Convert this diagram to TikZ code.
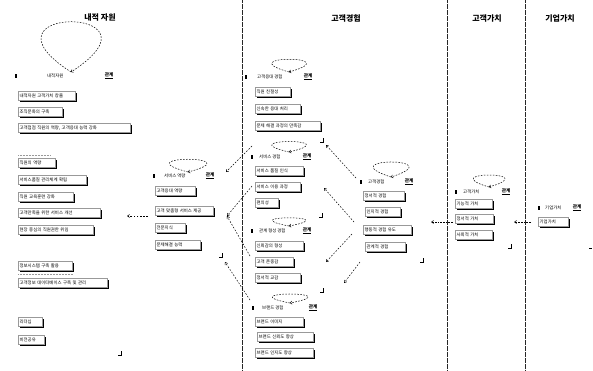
\documentclass[tikz,border=0pt]{standalone}
\usepackage{fontspec}
\setmainfont{Noto Sans CJK KR}
\usetikzlibrary{arrows.meta,shadows}
\begin{document}
\begin{tikzpicture}[x=1pt,y=-1pt,
  bx/.style={draw=black!40, line width=0.3pt, fill=white, anchor=west,
    inner xsep=1.5pt, inner ysep=0pt, minimum height=9pt, text width=#1,
    font=\fontsize{4.4}{5}\selectfont, align=left,
    drop shadow={shadow xshift=1.8pt, shadow yshift=-1.8pt, fill=black, opacity=1}},
  hdname/.style={anchor=west, inner sep=0pt, font=\fontsize{4.4}{5}\selectfont},
  hdrel/.style={anchor=west, inner sep=0.6pt, font=\bfseries\fontsize{4.6}{5}\selectfont},
  hdicon/.style={fill=black, inner sep=0pt, minimum width=2.8pt, minimum height=3.8pt},
  ttl/.style={font=\bfseries\fontsize{8}{9}\selectfont, inner sep=0pt},
  lane/.style={black!85, line width=0.55pt, dash pattern=on 0.6pt off 0.6pt},
  lp/.style={black, line width=0.5pt, dash pattern=on 1.6pt off 1.4pt, -{Straight Barb[length=1.6pt]}},
  arr/.style={black, line width=0.5pt, dash pattern=on 1.6pt off 1.6pt, -{Straight Barb[length=2.2pt,width=3pt]}},
  arrd/.style={black, line width=0.5pt, dash pattern=on 0.7pt off 0.9pt, -{Straight Barb[length=2.2pt,width=3pt]}},
  cmark/.style={black, line width=0.7pt},
  faint/.style={black!40, line width=0.3pt, dash pattern=on 0.6pt off 0.9pt}
]
\useasboundingbox (0,0) rectangle (593,370);

% lanes
\draw[lane] (242,0) -- (242,370);
\draw[lane] (447,0) -- (447,370);
\draw[lane] (525,0) -- (525,370);

% titles
\node[ttl] (t1) at (100,18) {내적 자원};
\node[ttl] (t2) at (346,18) {고객경험};
\node[ttl] (t3) at (487,18) {고객가치};
\node[ttl] (t4) at (560,18) {기업가치};

% ---------------- left lane: internal resources
\node[hdicon] (Li) at (16,76) {};
\node[hdname] (Lh) at (47,76) {내적자원};
\node[hdrel] (Lr) at (104,76) {\underline{관계}};
\coordinate (Lp) at (71,72);
\draw[lp] (Lp) .. controls +(-104,-67) and +(104,-67) .. (Lp);

\node[bx=54pt] (L1) at (18,96) {내적자원 고객가치 창출};
\node[bx=41pt] (L2) at (18,112) {조직문화의 구축};
\node[bx=109pt] (L3) at (18,128) {고객접점 직원의 역량, 고객응대 능력 강화};
\draw[faint] (18,155) -- (50,155);
\node[bx=34pt] (L4) at (18,163) {직원의 역량};
\node[bx=65pt] (L5) at (18,180) {서비스품질 관리체계 확립};
\node[bx=52pt] (L6) at (18,197) {직원 교육훈련 강화};
\node[bx=79pt] (L7) at (18,213) {고객만족을 위한 서비스 개선};
\node[bx=72pt] (L8) at (18,230) {현장 중심의 직원권한 위임};
\node[bx=51pt] (L9) at (18,266) {정보시스템 구축 활용};
\draw[faint] (18,274) -- (73,274);
\node[bx=86pt] (L10) at (18,283) {고객정보 데이터베이스 구축 및 관리};
\node[bx=21pt] (L11) at (18,322) {리더십};
\node[bx=23pt] (L12) at (18,340) {비전공유};
\draw[cmark] (118,355) -- (121,355) -- (121,351);

% ---------------- middle-left group: service capability
\node[hdicon] (Mi) at (154,176) {};
\node[hdname] (Mh) at (164,176) {서비스 역량};
\node[hdrel] (Mr) at (205,176) {\underline{관계}};
\coordinate (Mp) at (188,172);
\draw[lp] (Mp) .. controls +(-65,-17) and +(65,-17) .. (Mp);
\node[bx=37pt] (M1) at (155,191) {고객응대 역량};
\node[bx=55pt] (M2) at (155,211) {고객 맞춤형 서비스 제공};
\node[bx=27pt] (M3) at (155,228) {전문지식};
\node[bx=42pt] (M4) at (155,245) {문제해결 능력};
\draw[cmark] (219,257) -- (222,257) -- (222,253);
\coordinate (Mout) at (148,216);
\coordinate (Lin) at (127,216);
\draw[arr] (Mout) -- (Lin);

% ---------------- customer experience subgroups
% G1
\node[hdicon] (G1i) at (246,77) {};
\node[hdname] (G1h) at (257,77) {고객응대 경험};
\node[hdrel] (G1r) at (303,77) {\underline{관계}};
\coordinate (G1p) at (289,72);
\draw[lp] (G1p) .. controls +(-60,-17) and +(60,-17) .. (G1p);
\node[bx=32pt] (G11) at (255,92) {직원 친절성};
\node[bx=42pt] (G12) at (255,109) {신속한 응대 처리};
\node[bx=62pt] (G13) at (255,126) {문제 해결 과정의 만족감};
\draw[cmark] (320,142) -- (323,142) -- (323,138);
% G2
\node[hdicon] (G2i) at (252,157) {};
\node[hdname] (G2h) at (259,157) {서비스 경험};
\node[hdrel] (G2r) at (302,157) {\underline{관계}};
\coordinate (G2p) at (289,152);
\draw[lp] (G2p) .. controls +(-60,-14) and +(60,-14) .. (G2p);
\node[bx=45pt] (G21) at (255,171) {서비스 품질 인식};
\node[bx=42pt] (G22) at (255,187) {서비스 이용 과정};
\node[bx=20pt] (G23) at (255,203) {편의성};
\draw[cmark] (319,217) -- (322,217) -- (322,213);
% G3
\node[hdicon] (G3i) at (252,231) {};
\node[hdname] (G3h) at (259,231) {관계 형성 경험};
\node[hdrel] (G3r) at (302,231) {\underline{관계}};
\coordinate (G3p) at (289,226);
\draw[lp] (G3p) .. controls +(-58,-11) and +(58,-11) .. (G3p);
\node[bx=45pt] (G31) at (255,246) {신뢰감의 형성};
\node[bx=35pt] (G32) at (255,262) {고객 존중감};
\node[bx=42pt] (G33) at (255,278) {정서적 교감};
\draw[cmark] (320,292) -- (323,292) -- (323,288);
% G4
\node[hdicon] (G4i) at (253,308) {};
\node[hdname] (G4h) at (262,308) {브랜드 경험};
\node[hdrel] (G4r) at (308,308) {\underline{관계}};
\coordinate (G4p) at (290,303);
\draw[lp] (G4p) .. controls +(-62,-12) and +(62,-12) .. (G4p);
\node[bx=45pt] (G41) at (255,322) {브랜드 이미지};
\node[bx=53pt] (G42) at (257,337) {브랜드 신뢰도 향상};
\node[bx=55pt] (G43) at (255,353) {브랜드 인지도 향상};

% ---------------- customer experience (right group)
\node[hdicon] (Ri) at (361,182) {};
\node[hdname] (Rh) at (368,182) {고객경험};
\node[hdrel] (Rr) at (404,182) {\underline{관계}};
\coordinate (Rp) at (391,177);
\draw[lp] (Rp) .. controls +(-62,-20) and +(62,-20) .. (Rp);
\node[bx=38pt] (R1) at (363,196) {정서적 경험};
\node[bx=32pt] (R2) at (365,212) {인지적 경험};
\node[bx=45pt] (R3) at (363,230) {행동적 경험 유도};
\node[bx=37pt] (R4) at (365,247) {관계적 경험};
\draw[cmark] (420,262) -- (423,262) -- (423,258);

% ---------------- customer value
\node[hdicon] (Vi) at (456,192) {};
\node[hdname] (Vh) at (463,192) {고객가치};
\node[hdrel] (Vr) at (501,192) {\underline{관계}};
\coordinate (Vp) at (489,187);
\draw[lp] (Vp) .. controls +(-55,-16) and +(55,-16) .. (Vp);
\node[bx=34pt] (V1) at (455,204) {기능적 가치};
\node[bx=35pt] (V2) at (455,219) {정서적 가치};
\node[bx=34pt] (V3) at (455,235) {사회적 가치};
\draw[cmark] (508,248) -- (511,248) -- (511,244);

% ---------------- corporate value
\node[hdicon] (Ci) at (539,208) {};
\node[hdname] (Ch) at (545,208) {기업가치};
\node[hdrel] (Cr) at (572,208) {\underline{관계}};
\node[bx=27pt] (C1) at (538,222) {기업가치};
\draw[cmark] (589,248) -- (592,248);

% ---------------- connectors (right to left)
\coordinate (Cout) at (531,222);
\coordinate (Vin) at (514,222);
\draw[arrd] (Cout) -- (Vin);
\coordinate (Vout) at (453,222);
\coordinate (Rin) at (431,222);
\draw[arrd] (Vout) -- (Rin);

\coordinate (R1o) at (356,178);
\coordinate (G1in) at (326,145);
\draw[arr] (R1o) -- (G1in);
\coordinate (R2o) at (354,222);
\coordinate (G2in) at (324,188);
\draw[arr] (R2o) -- (G2in);
\coordinate (R3o) at (352,234);
\coordinate (G3in) at (326,262);
\draw[arr] (R3o) -- (G3in);
\coordinate (R4o) at (360,262);
\coordinate (G4in) at (344,283);
\draw[arr] (R4o) -- (G4in);

\coordinate (G1o) at (252,146);
\coordinate (Mtop) at (226,172);
\draw[arr] (G1o) -- (Mtop);
\coordinate (G2o) at (252,186);
\coordinate (Mhub) at (227,216);
\draw[arr] (G2o) -- (Mhub);
\coordinate (G3o) at (250,256);
\draw[arr] (G3o) -- (Mhub);
\coordinate (G4o) at (250,300);
\coordinate (Mbot) at (225,262);
\draw[arr] (G4o) -- (Mbot);
\end{tikzpicture}
\end{document}
